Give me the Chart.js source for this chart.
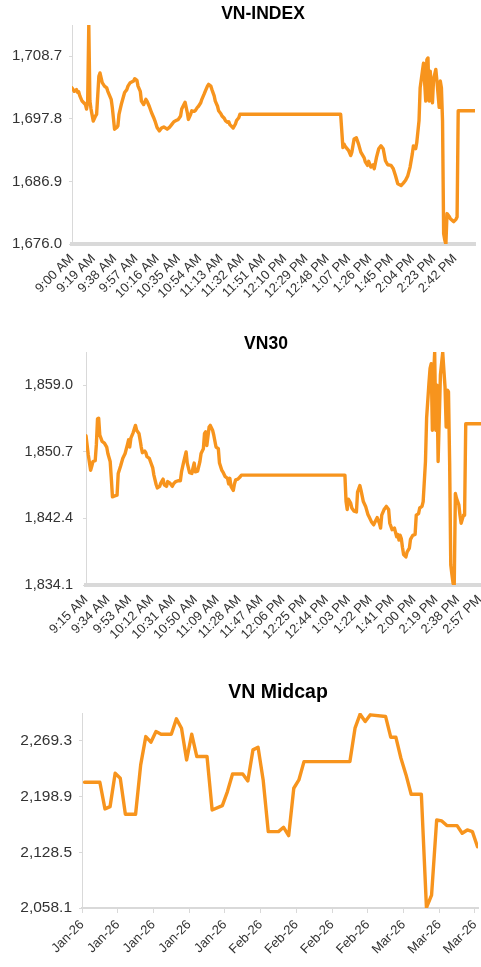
<!DOCTYPE html>
<html><head><meta charset="utf-8">
<script src="https://cdn.jsdelivr.net/npm/chart.js@4.4.1/dist/chart.umd.min.js"></script>
<style>
html,body{margin:0;padding:0;background:#fff;overflow:hidden;width:481px;height:967px;}
body{position:relative;}
canvas{position:absolute;left:0;}
</style></head><body>
<canvas id="c1" width="526" height="304" style="top:0px;width:526px;height:304px"></canvas>
<canvas id="c2" width="532" height="325" style="top:320px;width:532px;height:325px"></canvas>
<canvas id="c3" width="556" height="307" style="top:660px;width:556px;height:307px"></canvas>
<script>
// ---------- VN-INDEX (minutes after 9:00 AM) ----------
const vnIndexMinutes = [
  0,2,4,5,6,7,9,12,13,14,
  15,16,17,19,21,22,24,25,27,29,
  31,32,35,36,38,40,41,42,44,47,
  49,50,52,55,56,58,59,61,62,64,
  66,67,69,71,73,74,76,78,80,82,
  85,87,89,91,93,95,97,98,100,101,
  103,104,106,107,109,110,112,113,115,116,
  118,119,121,122,124,125,127,128,130,131,
  133,134,136,137,139,140,141,143,144,146,
  147,149,150,240,242,243,244,247,249,250,
  252,254,256,258,261,262,264,265,267,269,
  270,272,274,276,278,280,282,285,287,289,
  291,294,296,298,300,302,304,305,307,308,
  310,311,313,314,316,317,318,319,320,322,
  323,325,326,328,329,330,331,332,333,334,
  335,337,338,341,343,344,345,360
];
const vnIndexValues = [
  1703.2,1702.6,1702.9,1702.4,1702.5,1701.8,1700.9,1700.3,1699.5,1700.9,
  1714.1,1700.9,1699.5,1697.4,1698.3,1698.6,1705.2,1705.8,1704.1,1703.5,
  1703.2,1702.6,1701.2,1699.8,1696.0,1696.3,1696.6,1698.6,1700.3,1702.4,
  1702.9,1703.5,1704.1,1704.4,1704.8,1704.5,1703.5,1702.6,1700.9,1700.3,
  1701.2,1700.9,1700.0,1698.9,1698.0,1697.5,1696.3,1695.7,1696.2,1696.4,
  1696.0,1696.3,1696.8,1697.3,1697.5,1697.7,1698.3,1699.5,1700.3,1700.7,
  1698.9,1697.7,1698.6,1699.2,1699.1,1699.2,1699.8,1700.0,1700.6,1701.2,
  1702.1,1702.6,1703.5,1703.8,1703.5,1702.9,1701.8,1700.9,1700.0,1699.2,
  1698.7,1698.3,1697.9,1697.5,1697.2,1697.3,1696.8,1696.4,1696.2,1696.9,
  1697.5,1698.0,1698.6,1698.6,1692.8,1693.4,1693.0,1692.3,1691.4,1692.0,
  1694.3,1694.5,1693.4,1692.0,1691.0,1690.3,1689.7,1690.4,1689.4,1689.8,
  1689.1,1691.1,1692.6,1693.1,1692.6,1690.5,1689.8,1689.7,1689.1,1687.9,
  1686.5,1686.2,1686.6,1687.1,1687.9,1689.4,1691.7,1693.1,1692.6,1693.7,
  1697.5,1703.2,1706.1,1707.5,1700.9,1708.1,1708.4,1700.9,1706.1,1700.6,
  1704.7,1706.4,1704.4,1699.8,1704.4,1703.2,1697.5,1677.8,1676.7,1676.0,
  1681.3,1680.8,1680.4,1679.9,1680.3,1680.7,1699.2,1699.2
];
const vnIndexTimeLabels = ['9:00 AM','9:19 AM','9:38 AM','9:57 AM','10:16 AM','10:35 AM','10:54 AM','11:13 AM','11:32 AM','11:51 AM','12:10 PM','12:29 PM','12:48 PM','1:07 PM','1:26 PM','1:45 PM','2:04 PM','2:23 PM','2:42 PM'];
const vnIndexYTicks = [1676.0, 1686.9, 1697.8, 1708.7];

// ---------- VN30 (minutes after 9:00 AM) ----------
const vn30Minutes = [
  15,17,19,20,21,23,24,25,26,27,
  29,31,33,34,36,37,38,40,42,43,
  45,47,49,51,52,53,54,56,58,59,
  61,62,63,64,66,67,68,70,71,73,
  74,76,77,79,80,82,83,85,86,88,
  90,91,93,95,97,98,100,102,103,105,
  107,108,109,110,112,114,115,117,118,119,
  120,122,123,125,126,128,130,131,133,134,
  136,138,139,140,141,143,144,145,147,149,
  150,240,241,242,243,245,246,248,250,251,
  253,254,256,258,260,261,263,265,267,268,
  270,271,272,274,276,278,279,281,283,285,
  286,287,288,289,290,291,293,294,296,297,
  299,301,302,304,305,307,308,310,311,313,
  314,315,316,317,318,319,320,321,322,323,
  325,326,327,328,329,330,331,332,333,334,
  335,336,337,339,340,341,343,344,345,360
];
const vn30Values = [
  1852.7,1850.3,1848.4,1848.9,1849.5,1849.6,1851.6,1854.8,1854.9,1852.8,
  1852.0,1851.8,1851.3,1850.5,1849.5,1847.4,1845.1,1845.2,1845.3,1848.0,
  1848.9,1849.9,1850.5,1851.6,1852.2,1851.3,1852.4,1853.1,1854.0,1853.4,
  1853.0,1852.2,1851.3,1850.6,1850.8,1850.6,1850.1,1849.9,1849.5,1848.7,
  1847.8,1846.6,1846.2,1846.4,1846.8,1847.3,1846.6,1846.4,1847.0,1846.8,
  1846.4,1846.7,1847.0,1847.1,1847.1,1848.2,1849.5,1850.7,1849.3,1848.1,
  1848.0,1848.7,1849.3,1848.2,1848.3,1849.5,1850.5,1851.1,1853.0,1853.2,
  1851.5,1853.8,1854.0,1853.4,1852.8,1851.3,1851.1,1849.3,1848.4,1848.2,
  1847.6,1847.4,1846.7,1847.4,1846.4,1845.9,1846.7,1847.2,1847.3,1847.6,
  1847.8,1847.8,1844.5,1843.5,1844.8,1844.3,1843.7,1843.3,1843.2,1845.7,
  1846.5,1845.9,1844.5,1843.9,1842.9,1842.6,1842.0,1841.6,1842.2,1842.5,
  1841.8,1841.2,1842.8,1843.5,1843.9,1843.5,1841.8,1841.0,1841.2,1840.1,
  1840.4,1839.7,1840.3,1839.9,1838.8,1837.9,1837.6,1838.2,1838.7,1839.8,
  1840.3,1840.4,1842.8,1843.0,1843.7,1843.9,1844.5,1849.5,1854.9,1859.2,
  1861.1,1861.7,1853.4,1859.9,1863.1,1853.4,1859.0,1849.5,1854.9,1860.3,
  1863.1,1860.9,1858.8,1853.8,1858.4,1858.2,1849.5,1836.6,1835.4,1834.3,
  1834.1,1845.5,1844.9,1844.1,1842.8,1841.8,1842.8,1842.8,1854.2,1854.2
];
const vn30TimeLabels = ['9:15 AM','9:34 AM','9:53 AM','10:12 AM','10:31 AM','10:50 AM','11:09 AM','11:28 AM','11:47 AM','12:06 PM','12:25 PM','12:44 PM','1:03 PM','1:22 PM','1:41 PM','2:00 PM','2:19 PM','2:38 PM','2:57 PM'];
const vn30YTicks = [1834.1, 1842.4, 1850.7, 1859.0];

// ---------- VN Midcap (day number from first session) ----------
const midcapDays = [
  0,3,4,5,6,7,8,10,11,12,
  13,14,15,17,18,19,20,21,22,24,
  25,27,28,29,31,32,33,34,35,36,
  38,39,40,41,42,43,52,53,54,55,
  56,59,60,61,62,63,64,66,67,68,
  69,70,71,73,74,75,76,77
];
const midcapValues = [
  2217.0,2217.0,2183.3,2186.2,2228.4,2222.1,2176.5,2176.5,2238.9,2274.7,
  2267.6,2281.1,2277.7,2277.7,2297.1,2285.3,2245.2,2277.7,2249.5,2249.5,
  2182.0,2187.5,2205.2,2227.5,2227.5,2218.7,2257.9,2261.2,2219.9,2154.6,
  2154.6,2160.1,2149.5,2209.4,2219.9,2243.1,2243.1,2285.3,2303.0,2293.7,
  2302.2,2300.0,2273.9,2273.9,2247.3,2226.3,2201.8,2201.8,2058.5,2074.5,
  2169.3,2168.1,2162.2,2162.2,2152.5,2156.7,2154.6,2135.6
];
const midcapDateLabels = ['Jan-26','Jan-26','Jan-26','Jan-26','Jan-26','Feb-26','Feb-26','Feb-26','Feb-26','Mar-26','Mar-26','Mar-26'];
const midcapYTicks = [2058.1, 2128.5, 2198.9, 2269.3];

// ---------- drawing ----------
const FONT = '"Liberation Sans", Arial, sans-serif';
const ORANGE = '#F7941D';
const AXIS = '#d9d9d9';
const TXT = '#333333';

function clockToMinutes(lbl) {
  const m = lbl.match(/(\d+):(\d+)\s*(AM|PM)/);
  let h = (+m[1]) % 12;
  if (m[3] === 'PM') h += 12;
  return (h - 9) * 60 + (+m[2]);
}
const fmt = v => v.toLocaleString('en-US', {minimumFractionDigits: 1, maximumFractionDigits: 1});

function build(id, o) {
  return new Chart(document.getElementById(id), {
    type: 'line',
    data: {
      datasets: [{
        data: o.xs.map((x, i) => ({x: x, y: o.ys[i]})),
        borderColor: ORANGE, backgroundColor: ORANGE,
        borderWidth: 3.4, pointRadius: 0, tension: 0, fill: false,
        borderJoinStyle: 'round', borderCapStyle: 'round'
      }]
    },
    options: {
      responsive: false, animation: false, devicePixelRatio: 1,
      layout: {padding: 0},
      plugins: {
        legend: {display: false}, tooltip: {enabled: false},
        title: {display: true, text: o.title, color: '#000',
          font: {family: FONT, size: o.titleSize, weight: 'bold', lineHeight: 0.8},
          padding: {top: o.tpt, bottom: o.tpb}}
      },
      scales: {
        x: {
          type: 'linear', min: o.xmin, max: o.xmax,
          afterBuildTicks: s => { s.ticks = o.xTickPos.map(v => ({value: v})); },
          afterFit: s => { s.height = o.xh; },
          ticks: {autoSkip: false, minRotation: 45, maxRotation: 45, color: TXT,
            font: {family: FONT, size: 13}, padding: o.xpad,
            callback: (v, i) => o.xTickLabels[i]},
          grid: {display: true, drawOnChartArea: false, drawTicks: o.xDrawTicks, tickLength: o.xTickLen, color: AXIS},
          border: {display: true, color: AXIS, width: o.xBorder}
        },
        y: {
          type: 'linear', position: 'left', min: o.ymin, max: o.ymax,
          afterBuildTicks: s => { s.ticks = o.yTicks.map(v => ({value: v})); },
          afterFit: s => { s.width = o.yw; },
          ticks: {color: TXT, font: {family: FONT, size: o.ySize}, padding: o.ypad, callback: v => fmt(v)},
          grid: {display: true, drawOnChartArea: false, drawTicks: true, tickLength: 3, color: AXIS},
          border: {display: true, color: AXIS, width: 1}
        },
        // empty spacer on the right so the title centre matches the reference
        spacer: {
          type: 'linear', position: 'right', display: true,
          afterFit: s => { s.width = o.rw; },
          ticks: {display: false}, grid: {display: false}, border: {display: false}
        }
      }
    }
  });
}

build('c1', {
  title: 'VN-INDEX', titleSize: 17.5, tpt: 7, tpb: 4, yw: 72, rw: 51, xh: 60,
  xs: vnIndexMinutes, ys: vnIndexValues,
  xmin: 0, xmax: 360, xTickPos: vnIndexTimeLabels.map(clockToMinutes), xTickLabels: vnIndexTimeLabels,
  xpad: 7, xDrawTicks: false, xTickLen: 4, xBorder: 4,
  ymin: vnIndexYTicks[0], ymax: vnIndexYTicks[0] + 3.5 * (vnIndexYTicks[1] - vnIndexYTicks[0]),
  yTicks: vnIndexYTicks, ySize: 15, ypad: 7
});

build('c2', {
  title: 'VN30', titleSize: 17.5, tpt: 17, tpb: 1, yw: 86, rw: 49, xh: 60,
  xs: vn30Minutes, ys: vn30Values,
  xmin: 15, xmax: 360, xTickPos: vn30TimeLabels.map(clockToMinutes), xTickLabels: vn30TimeLabels,
  xpad: 7, xDrawTicks: false, xTickLen: 4, xBorder: 4,
  ymin: vn30YTicks[0], ymax: vn30YTicks[0] + 3.5 * (vn30YTicks[1] - vn30YTicks[0]),
  yTicks: vn30YTicks, ySize: 14.5, ypad: 10
});

build('c3', {
  title: 'VN Midcap', titleSize: 19.5, tpt: 25.2, tpb: 12.2, yw: 82, rw: 78, xh: 59,
  xs: midcapDays, ys: midcapValues,
  xmin: -0.5, xmax: 77.1, xTickPos: midcapDateLabels.map((l, i) => -0.5 + 7 * i), xTickLabels: midcapDateLabels,
  xpad: 4, xDrawTicks: true, xTickLen: 5, xBorder: 2,
  ymin: midcapYTicks[0], ymax: midcapYTicks[0] + 3.5 * (midcapYTicks[1] - midcapYTicks[0]),
  yTicks: midcapYTicks, ySize: 15.5, ypad: 7
});
</script>
</body></html>
